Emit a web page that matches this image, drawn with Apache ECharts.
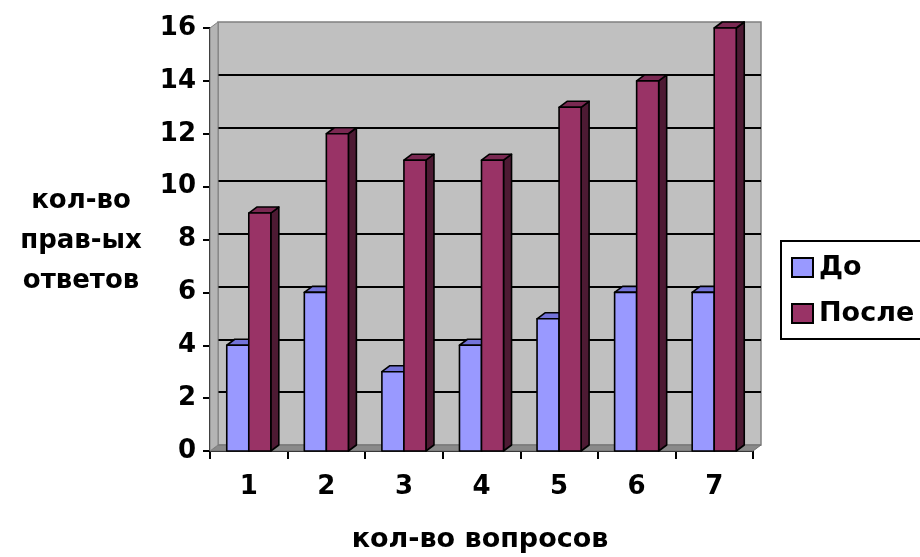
<!DOCTYPE html>
<html><head><meta charset="utf-8">
<script src="https://cdn.jsdelivr.net/npm/echarts@6/dist/echarts.min.js"></script>
<style>html,body{margin:0;padding:0;background:#fff}#c{width:920px;height:557px}</style>
</head><body><div id="c"></div>
<script>
const categories = ['1','2','3','4','5','6','7'];
const seriesNames = ['До','После'];
const valuesBefore = [4,6,3,4,5,6,6];
const valuesAfter = [9,12,11,11,13,14,16];
const yTicks = [0,2,4,6,8,10,12,14,16];
const yTitle = 'кол-во\nправ-ых\nответов';
const xTitle = 'кол-во вопросов';

const chart = echarts.init(document.getElementById('c'));
const DX = 8, DY = -6;
const FONT = '"DejaVu Sans", sans-serif';

function barRenderer(slot, front, top, side) {
  return function (params, api) {
    const i = api.value(0), v = api.value(1);
    const base = api.coord([i, 0]);
    const topPt = api.coord([i, v]);
    const w = api.size([1, 0])[0] * 0.284;
    const x0 = base[0] - w + slot * w;
    const x1 = x0 + w;
    const y0 = base[1], y1 = topPt[1];
    const ls = {stroke: '#000', lineWidth: 1.6, lineJoin: 'round'};
    return {
      type: 'group',
      children: [
        {type: 'polygon', shape: {points: [[x1, y0], [x1 + DX, y0 + DY], [x1 + DX, y1 + DY], [x1, y1]]}, style: Object.assign({fill: side}, ls)},
        {type: 'polygon', shape: {points: [[x0, y1], [x0 + DX, y1 + DY], [x1 + DX, y1 + DY], [x1, y1]]}, style: Object.assign({fill: top}, ls)},
        {type: 'rect', shape: {x: x0, y: y1, width: w, height: y0 - y1}, style: Object.assign({fill: front}, ls)}
      ]
    };
  };
}

const option = {
  animation: false,
  textStyle: {fontFamily: FONT},
  grid: [
    {left: 210, right: 167, top: 28, bottom: 106, show: false},
    {left: 218, right: 159, top: 22, bottom: 112, show: true, backgroundColor: '#c0c0c0', borderColor: '#808080', borderWidth: 1.5}
  ],
  xAxis: [
    {type: 'category', gridIndex: 0, data: categories,
     axisLine: {lineStyle: {color: '#000', width: 2}},
     axisTick: {show: true, length: 8, lineStyle: {color: '#000', width: 2}},
     axisLabel: {color: '#000', fontSize: 26, fontWeight: 'bold', fontFamily: FONT, margin: 23},
     splitLine: {show: false}},
    {type: 'category', gridIndex: 1, data: categories, show: false}
  ],
  yAxis: [
    {type: 'value', gridIndex: 0, min: 0, max: 16, interval: 2,
     axisLine: {show: true, lineStyle: {color: '#000', width: 2}},
     axisTick: {show: true, length: 7, lineStyle: {color: '#000', width: 2}},
     axisLabel: {color: '#000', fontSize: 26, fontWeight: 'bold', fontFamily: FONT, margin: 14,
       formatter: v => yTicks.includes(v) ? String(v) : ''},
     splitLine: {show: false}},
    {type: 'value', gridIndex: 1, min: 0, max: 16, interval: 2,
     axisLine: {show: false}, axisTick: {show: false}, axisLabel: {show: false},
     splitLine: {show: true, showMinLine: false, showMaxLine: false, lineStyle: {color: '#000', width: 2}}}
  ],
  legend: {
    left: 781, top: 241, orient: 'vertical',
    data: [{name: seriesNames[0], icon: 'rect'}, {name: seriesNames[1], icon: 'rect'}],
    itemWidth: 21, itemHeight: 19, itemGap: 19,
    padding: [13, 30, 12, 10],
    borderColor: '#000', borderWidth: 2, backgroundColor: '#fff',
    textStyle: {fontSize: 27, fontWeight: 'bold', color: '#000', fontFamily: FONT, padding: [0, 0, 0, 1]}
  },
  graphic: [
    {type: 'text', x: 81, y: 241, style: {text: yTitle, textAlign: 'center', textVerticalAlign: 'middle',
      font: 'bold 26px "DejaVu Sans", sans-serif', fill: '#000', lineHeight: 40}},
    {type: 'text', x: 480, y: 540, style: {text: xTitle, textAlign: 'center', textVerticalAlign: 'middle',
      font: 'bold 27px "DejaVu Sans", sans-serif', fill: '#000'}}
  ],
  series: [
    {type: 'custom', name: '_walls', xAxisIndex: 0, yAxisIndex: 0, data: [[0, 0]], silent: true,
     renderItem: function (params, api) {
       const cs = params.coordSys;
       const x = cs.x, y = cs.y, w = cs.width, h = cs.height;
       return {type: 'group', children: [
         {type: 'polygon', shape: {points: [[x, y + h], [x + w, y + h], [x + w + DX, y + h + DY], [x + DX, y + h + DY]]},
          style: {fill: '#8a8a8a', stroke: '#707070', lineWidth: 1}},
         {type: 'polygon', shape: {points: [[x, y + h], [x, y], [x + DX, y + DY], [x + DX, y + h + DY]]},
          style: {fill: '#b4b4b4', stroke: '#808080', lineWidth: 1}}
       ]};
     }},
    {type: 'custom', name: seriesNames[0], xAxisIndex: 0, yAxisIndex: 0,
     itemStyle: {color: '#9999FF', borderColor: '#000', borderWidth: 1.5},
     data: valuesBefore.map((v, i) => [i, v]),
     renderItem: barRenderer(0, '#9999FF', '#7373d9', '#4d4d80')},
    {type: 'custom', name: seriesNames[1], xAxisIndex: 0, yAxisIndex: 0,
     itemStyle: {color: '#993366', borderColor: '#000', borderWidth: 1.5},
     data: valuesAfter.map((v, i) => [i, v]),
     renderItem: barRenderer(1, '#993366', '#7a2952', '#4d1a33')}
  ]
};
chart.setOption(option);
</script>
</body></html>
